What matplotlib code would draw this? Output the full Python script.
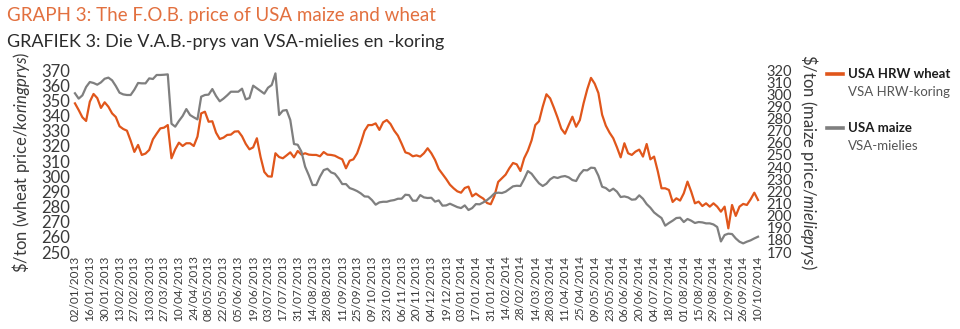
import numpy as np
import matplotlib.pyplot as plt
from matplotlib.lines import Line2D

# fortnightly tick labels (category axis, two readings per week)
tick_labels = ['02/01/2013', '16/01/2013', '30/01/2013', '13/02/2013', '27/02/2013', '13/03/2013',
               '27/03/2013', '10/04/2013', '24/04/2013', '08/05/2013', '22/05/2013', '05/06/2013',
               '19/06/2013', '03/07/2013', '17/07/2013', '31/07/2013', '14/08/2013', '28/08/2013',
               '11/09/2013', '25/09/2013', '09/10/2013', '23/10/2013', '06/11/2013', '20/11/2013',
               '04/12/2013', '19/12/2013', '03/01/2014', '17/01/2014', '31/01/2014', '14/02/2014',
               '28/02/2014', '14/03/2014', '28/03/2014', '11/04/2014', '25/04/2014', '09/05/2014',
               '23/05/2014', '06/06/2014', '20/06/2014', '04/07/2014', '18/07/2014', '01/08/2014',
               '15/08/2014', '29/08/2014', '12/09/2014', '26/09/2014', '10/10/2014']

# USA HRW wheat, $/ton (left axis)
wheat = [348.0, 343.6, 338.8, 336.4, 349.1, 354.2, 351.5, 345.0, 348.7, 345.8, 341.4, 339.0,
         332.9, 331.1, 330.0, 323.4, 316.0, 320.6, 314.0, 314.9, 317.3, 324.3, 328.0, 331.5,
         332.0, 333.7, 311.8, 317.7, 322.1, 319.9, 321.7, 321.7, 319.9, 326.1, 341.4, 342.5,
         335.9, 336.2, 328.7, 324.5, 325.4, 327.2, 327.4, 329.4, 329.6, 326.3, 321.3, 317.7,
         319.0, 325.0, 312.6, 302.8, 299.9, 299.7, 315.1, 312.6, 311.8, 313.7, 315.7, 312.4,
         316.6, 314.2, 315.1, 314.2, 314.0, 314.0, 313.1, 315.9, 314.2, 314.0, 313.5, 312.2,
         311.1, 305.2, 310.2, 311.1, 315.1, 321.9, 329.8, 333.7, 333.7, 334.8, 330.5, 335.5,
         337.0, 334.4, 330.0, 326.7, 321.4, 315.7, 314.9, 313.1, 313.7, 312.9, 315.1, 318.4,
         315.1, 310.7, 304.7, 301.4, 298.1, 294.4, 292.0, 290.0, 289.1, 292.2, 293.1, 286.7,
         288.5, 286.7, 285.2, 282.3, 281.5, 287.0, 296.2, 298.6, 301.0, 305.2, 308.7, 307.8,
         303.4, 311.8, 316.8, 323.6, 333.7, 336.2, 345.8, 354.0, 351.3, 345.2, 338.6, 331.3,
         328.0, 333.7, 339.2, 332.6, 337.0, 348.0, 357.3, 364.8, 361.0, 354.8, 340.5, 333.3,
         328.7, 325.0, 319.0, 312.4, 321.7, 315.1, 314.0, 316.2, 317.5, 312.9, 321.2, 311.1,
         312.9, 303.2, 292.0, 292.0, 290.9, 283.0, 285.4, 283.9, 288.7, 296.4, 289.8, 282.1,
         283.2, 280.3, 282.1, 279.9, 282.1, 279.9, 276.6, 279.9, 265.6, 281.0, 273.8, 279.9,
         281.7, 281.0, 284.7, 289.1, 284.3]

# USA maize, $/ton (right axis)
maize = [300.8, 296.4, 299.1, 306.0, 310.1, 309.3, 307.9, 309.8, 312.8, 313.7, 311.5, 306.8,
         301.3, 299.9, 299.4, 299.4, 303.8, 309.3, 309.0, 309.0, 313.1, 312.6, 315.9, 315.9,
         316.1, 316.4, 275.7, 273.3, 278.0, 282.1, 287.8, 282.9, 281.0, 279.3, 298.0, 299.4,
         299.7, 304.3, 298.6, 294.2, 296.4, 299.1, 302.1, 302.1, 302.1, 304.6, 295.8, 296.9,
         307.1, 304.9, 302.7, 300.5, 305.4, 307.6, 317.2, 282.9, 286.5, 287.0, 278.8, 259.0,
         258.4, 252.7, 240.3, 233.2, 225.2, 225.2, 232.1, 237.5, 238.6, 235.6, 234.5, 230.7,
         226.0, 226.0, 222.7, 221.6, 220.2, 218.3, 215.8, 215.6, 212.8, 209.0, 210.9, 211.4,
         211.4, 212.3, 212.8, 213.9, 213.9, 217.2, 216.9, 212.3, 212.3, 216.9, 215.0, 214.5,
         214.7, 211.5, 212.5, 208.2, 208.4, 209.8, 208.4, 207.0, 206.2, 208.4, 204.6, 206.2,
         209.5, 209.3, 210.9, 212.8, 215.3, 218.3, 218.9, 218.6, 219.7, 221.9, 224.1, 224.6,
         224.4, 230.1, 236.7, 234.5, 230.4, 226.6, 224.4, 226.3, 229.9, 231.8, 231.0, 232.1,
         232.6, 231.5, 229.3, 228.5, 234.0, 237.5, 237.3, 239.5, 239.2, 232.9, 223.8, 222.7,
         220.2, 222.2, 219.7, 215.3, 215.8, 215.0, 213.1, 213.4, 216.7, 213.9, 209.5, 206.5,
         202.6, 200.2, 198.0, 191.7, 193.9, 195.8, 198.0, 198.3, 194.7, 197.2, 195.8, 193.9,
         194.7, 194.4, 193.6, 193.6, 192.7, 190.6, 178.7, 184.0, 185.1, 184.8, 181.2, 178.5,
         177.1, 178.5, 179.6, 181.2, 182.6]

orange = '#E0561B'
grey = '#7F7F7F'
txt = '#3A3A3A'

plt.rcParams['font.family'] = ['Lato', 'DejaVu Sans']
plt.rcParams['mathtext.fontset'] = 'custom'
plt.rcParams['mathtext.rm'] = 'Lato'
plt.rcParams['mathtext.it'] = 'Lato:italic'

fig = plt.figure(figsize=(9.6, 3.29), dpi=100)
ax = fig.add_axes([72 / 960, 77 / 329, 689 / 960, 182 / 329])
ax2 = ax.twinx()

x = np.arange(len(wheat))
ax.plot(x, wheat, color=orange, lw=1.6, solid_joinstyle='round')
ax2.plot(x, maize, color=grey, lw=1.6, solid_joinstyle='round')

ax.set_xlim(-0.8, len(wheat) - 0.2)
ax.set_ylim(250, 370)
ax2.set_ylim(170, 320)
ax.set_yticks(np.arange(250, 371, 10))
ax2.set_yticks(np.arange(170, 321, 10))
ax.set_xticks(np.arange(0, len(wheat), 4))
ax.set_xticklabels(tick_labels, rotation=90)

for a in (ax, ax2):
    for s in a.spines.values():
        s.set_visible(False)
ax.tick_params(axis='y', length=0, pad=1.5, labelsize=12, labelcolor=txt)
ax.tick_params(axis='x', length=0, pad=2.5, labelsize=8.5, labelcolor=txt)
ax2.tick_params(axis='y', length=0, pad=4, labelsize=10.5, labelcolor=txt)

fig.text(21 / 960, 1 - 162 / 329, '\\$/ton (wheat price/$\\mathit{koringprys}$)',
         rotation=90, ha='center', va='center', fontsize=12, color=txt)
fig.text(809 / 960, 1 - 162 / 329, '\\$/ton (maize price/$\\mathit{mielieprys}$)',
         rotation=-90, ha='center', va='center', fontsize=12, color=txt)

# titles
fig.text(7 / 960, 1 - 15 / 329, 'GRAPH 3: The F.O.B. price of USA maize and wheat',
         ha='left', va='center', fontsize=13.5, color='#E2703F')
fig.text(7 / 960, 1 - 42 / 329, 'GRAFIEK 3: Die V.A.B.-prys van VSA-mielies en -koring',
         ha='left', va='center', fontsize=13, color='#2B2B2B')

# legend
legend_items = [('USA HRW wheat', 'VSA HRW-koring', orange, 74),
                ('USA maize', 'VSA-mielies', grey, 128)]
for name, name_af, col, ypix in legend_items:
    yf = 1 - ypix / 329
    fig.add_artist(Line2D([827 / 960, 843 / 960], [yf, yf], color=col, lw=2.6,
                          transform=fig.transFigure))
    fig.text(848 / 960, yf, name, ha='left', va='center', fontsize=9.5,
             fontweight='bold', color='#1E1E1E')
    fig.text(848 / 960, yf - 18 / 329, name_af, ha='left', va='center', fontsize=9.5,
             color='#555555')

fig.savefig('out.png', dpi=100)
